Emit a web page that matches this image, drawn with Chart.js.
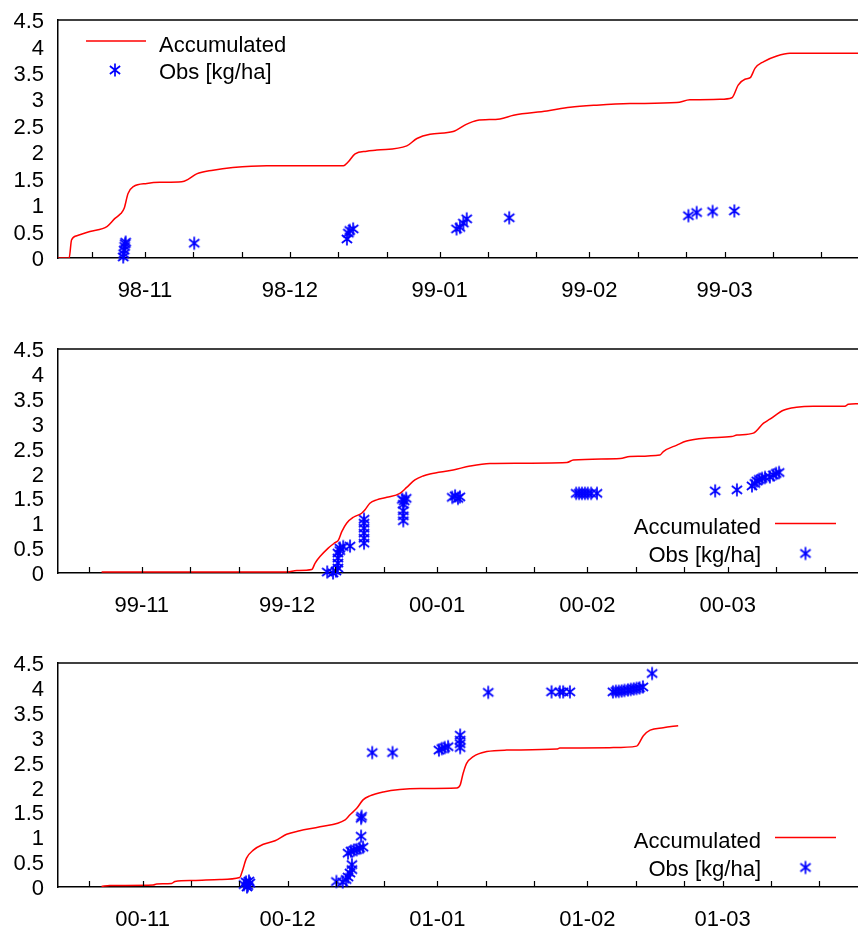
<!DOCTYPE html>
<html><head><meta charset="utf-8">
<script src="https://cdn.jsdelivr.net/npm/chart.js@4.4.0/dist/chart.umd.min.js"></script>
<style>
html,body{margin:0;padding:0;background:#fff;overflow:hidden;width:858px;height:930px;position:relative}
canvas{position:absolute;left:0}
</style></head>
<body>
<canvas id="c1" width="858" height="310" style="top:0px"></canvas>
<canvas id="c2" width="858" height="296" style="top:329px"></canvas>
<canvas id="c3" width="858" height="296" style="top:643px"></canvas>
<script>
// ---------- DATA (x = days since 1 Nov of the season) ----------
// Panel 1: season 1998-99
const days1 = [-18, -15.7, -15.2, -14.1, -11.4, -7.8, -6.2, -5.0, -4.3, -3.5, -2.4, 0.4, 3.1, 7.6, 9.0, 10.7, 14.1, 18.2, 25.2, 41.1, 42.1, 43.5, 45.9, 48.0, 54.2, 56.3, 59.0, 63.8, 66.6, 68.7, 73.5, 76.3, 83.2, 88.0, 93.5, 100.4, 110.1, 112.8, 119.0, 121.5, 122.8, 124.2, 125.3, 126.3, 128.0, 130.8, 133.5, 147.6];
const accum1 = [0, 0, 0.34, 0.42, 0.50, 0.60, 0.75, 0.84, 0.94, 1.22, 1.35, 1.41, 1.43, 1.44, 1.49, 1.59, 1.66, 1.71, 1.745, 1.745, 1.82, 1.97, 2.02, 2.04, 2.12, 2.26, 2.34, 2.39, 2.53, 2.60, 2.63, 2.70, 2.78, 2.85, 2.89, 2.92, 2.94, 2.99, 3.00, 3.03, 3.27, 3.38, 3.41, 3.59, 3.71, 3.82, 3.87, 3.87];
const obsDays1 = [-4.5, -4.4, -4.3, -4.2, -4.1, -4.0, 10.2, 41.8, 42.1, 42.4, 43.1, 64.5, 65.2, 65.9, 66.6, 75.4, 112.5, 114.2, 117.5, 122.0];
const obsVals1 = [0.02, 0.08, 0.15, 0.22, 0.27, 0.30, 0.28, 0.36, 0.47, 0.52, 0.55, 0.55, 0.58, 0.66, 0.74, 0.76, 0.80, 0.86, 0.88, 0.89];
const monthDays1 = [0, 30, 61, 92, 120];
const monthLabels1 = ['98-11', '98-12', '99-01', '99-02', '99-03'];
const minorDays1 = [-11, 10, 20, 40, 50, 71, 81, 102, 112, 130, 140];

// Panel 2: season 1999-2000
const days2 = [-8.3, 30, 32.0, 35.1, 35.8, 36.8, 38.5, 39.9, 40.6, 41.3, 42.3, 43.7, 45.4, 46.1, 47.1, 48.5, 50.6, 53.3, 54.7, 56.4, 58.1, 59.5, 64.3, 67.8, 71.9, 87.8, 89.1, 98.8, 100.8, 107.0, 107.7, 110.5, 112.5, 116.7, 121.8, 122.9, 126.3, 128.4, 129.7, 132.5, 135.2, 138.7, 145.2, 145.9, 147.9];
const accum2 = [0.02, 0.02, 0.05, 0.07, 0.20, 0.33, 0.50, 0.61, 0.66, 0.83, 1.00, 1.12, 1.20, 1.27, 1.40, 1.47, 1.52, 1.60, 1.72, 1.87, 1.95, 1.99, 2.07, 2.15, 2.20, 2.22, 2.27, 2.30, 2.34, 2.37, 2.44, 2.57, 2.65, 2.71, 2.74, 2.77, 2.81, 3.01, 3.09, 3.27, 3.33, 3.35, 3.35, 3.39, 3.40];
const obsDays2 = [38.3, 39.5, 40.1, 40.5, 40.5, 40.5, 40.5, 40.9, 40.9, 41.6, 43.0, 45.9, 45.9, 45.9, 45.9, 45.9, 45.9, 54.0, 54.0, 54.0, 54.0, 53.8, 54.2, 54.6, 64.1, 64.7, 65.3, 65.7, 89.7, 90.3, 90.9, 91.5, 92.1, 92.8, 94.0, 118.4, 122.9, 126.0, 126.6, 127.0, 127.5, 128.1, 128.7, 129.7, 130.4, 131.0, 131.6];
const obsVals2 = [0.02, 0.0, 0.04, 0.1, 0.2, 0.3, 0.4, 0.45, 0.5, 0.53, 0.54, 0.6, 0.7, 0.8, 0.9, 1.0, 1.08, 1.05, 1.15, 1.25, 1.38, 1.48, 1.45, 1.5, 1.52, 1.55, 1.5, 1.53, 1.6, 1.6, 1.6, 1.6, 1.6, 1.6, 1.6, 1.65, 1.67, 1.75, 1.8, 1.85, 1.88, 1.9, 1.92, 1.93, 1.97, 2.0, 2.02];
const monthDays2 = [0, 30, 61, 92, 121];
const monthLabels2 = ['99-11', '99-12', '00-01', '00-02', '00-03'];
const minorDays2 = [-11, 10, 20, 40, 50, 71, 81, 102, 112, 131, 141];

// Panel 3: season 2000-01
const days3 = [-8.5, -6.8, 2.2, 2.9, 6.0, 6.7, 10.5, 16.0, 20.1, 20.5, 21.5, 22.9, 25.0, 27.4, 29.8, 32.5, 36.7, 41.9, 42.9, 44.3, 45.6, 47.0, 49.8, 53.2, 57.4, 65.0, 65.7, 66.3, 67.0, 68.4, 71.2, 75.3, 85.7, 86.3, 97.4, 102.2, 103.6, 105.0, 107.7, 110.8];
const accum3 = [0.01, 0.03, 0.04, 0.06, 0.07, 0.11, 0.13, 0.15, 0.19, 0.28, 0.58, 0.74, 0.86, 0.93, 1.06, 1.13, 1.21, 1.35, 1.45, 1.58, 1.75, 1.83, 1.91, 1.96, 1.98, 1.99, 2.05, 2.28, 2.48, 2.62, 2.72, 2.75, 2.77, 2.79, 2.80, 2.83, 3.04, 3.15, 3.20, 3.24];
const obsDays3 = [21.0, 21.4, 21.6, 21.8, 22.0, 22.2, 40.1, 41.4, 42.1, 42.5, 42.9, 43.3, 43.3, 42.5, 43.1, 43.7, 44.3, 44.9, 45.6, 45.2, 45.2, 45.3, 47.5, 51.7, 61.3, 61.9, 62.5, 63.2, 65.7, 65.7, 65.7, 65.7, 71.5, 84.6, 86.3, 87.0, 88.4, 97.3, 97.9, 98.5, 99.1, 99.7, 100.4, 101.0, 101.6, 102.2, 102.8, 103.5, 105.4];
const obsVals3 = [0.05, 0.1, 0.0, 0.03, 0.12, 0.08, 0.11, 0.1, 0.15, 0.2, 0.28, 0.35, 0.45, 0.68, 0.72, 0.74, 0.75, 0.78, 0.8, 1.02, 1.38, 1.42, 2.70, 2.70, 2.75, 2.78, 2.80, 2.82, 2.80, 2.88, 2.95, 3.05, 3.91, 3.92, 3.92, 3.92, 3.92, 3.92, 3.93, 3.93, 3.94, 3.95, 3.96, 3.97, 3.98, 3.99, 4.0, 4.02, 4.29];
const monthDays3 = [0, 30, 61, 92, 120];
const monthLabels3 = ['00-11', '00-12', '01-01', '01-02', '01-03'];
const minorDays3 = [-11, 10, 20, 40, 50, 71, 81, 102, 112, 130, 140];

const yTicks = [0, 0.5, 1, 1.5, 2, 2.5, 3, 3.5, 4, 4.5];
const yTickLabels = ['0', '0.5', '1', '1.5', '2', '2.5', '3', '3.5', '4', '4.5'];
const seriesNames = ['Accumulated', 'Obs [kg/ha]'];

// ---------- STYLE ----------
const FONT = "'Liberation Sans', Arial, Helvetica, sans-serif";
Chart.defaults.font.family = FONT;
Chart.defaults.font.size = 22;
Chart.defaults.color = '#000';

function makeStar() {
  const c = document.createElement('canvas');
  c.width = 16; c.height = 16;
  const g = c.getContext('2d');
  g.strokeStyle = '#0000ff';
  g.lineWidth = 1.7;
  const cx = 8, cy = 8, r = 6.5;
  g.beginPath();
  for (const ang of [90, 38, -38]) {
    const t = ang * Math.PI / 180;
    g.moveTo(cx - r * Math.cos(t), cy + r * Math.sin(t));
    g.lineTo(cx + r * Math.cos(t), cy - r * Math.sin(t));
  }
  g.stroke();
  return c;
}
const STAR = makeStar();

const decor = {
  id: 'decor',
  afterDraw(chart, args, opts) {
    const { ctx, chartArea: a } = chart;
    const xs = chart.scales.x;
    ctx.save();
    ctx.strokeStyle = '#000';
    ctx.lineWidth = 1.5;
    ctx.beginPath();
    ctx.moveTo(a.left, a.top);
    ctx.lineTo(a.right, a.top);
    ctx.stroke();
    ctx.lineWidth = 1.2;
    ctx.beginPath();
    for (const v of opts.tickValues) {
      const px = Math.round(xs.getPixelForValue(v)) + 0.5;
      ctx.moveTo(px, a.bottom);
      ctx.lineTo(px, a.bottom - 6);
    }
    ctx.stroke();
    // legend
    ctx.font = '22px ' + FONT;
    ctx.fillStyle = '#000';
    ctx.textBaseline = 'alphabetic';
    ctx.strokeStyle = '#ff0000';
    ctx.lineWidth = 1.5;
    if (opts.legend === 'tl') {
      ctx.beginPath();
      ctx.moveTo(a.left + 28, a.top + 21);
      ctx.lineTo(a.left + 88, a.top + 21);
      ctx.stroke();
      ctx.textAlign = 'left';
      ctx.fillText(seriesNames[0], a.left + 101, a.top + 31.5);
      ctx.fillText(seriesNames[1], a.left + 101, a.top + 59);
      ctx.drawImage(STAR, a.left + 57 - 8, a.top + 50 - 8);
    } else {
      ctx.beginPath();
      ctx.moveTo(a.right - 83, a.bottom - 49.5);
      ctx.lineTo(a.right - 22, a.bottom - 49.5);
      ctx.stroke();
      ctx.textAlign = 'right';
      ctx.fillText(seriesNames[0], a.right - 97, a.bottom - 39);
      ctx.fillText(seriesNames[1], a.right - 97, a.bottom - 11);
      ctx.drawImage(STAR, a.right - 52.5 - 8, a.bottom - 19.5 - 8);
    }
    ctx.restore();
  }
};

function pts(xs, ys) { return xs.map((d, i) => ({ x: d, y: ys[i] })); }

function makeChart(id, p) {
  const allTicks = p.minor.concat(p.months).sort((a, b) => a - b);
  new Chart(document.getElementById(id), {
    type: 'scatter',
    data: {
      datasets: [
        { label: seriesNames[0], data: pts(p.days, p.accum), showLine: true, borderColor: '#ff0000',
          borderWidth: 1.5, pointRadius: 0, fill: false, cubicInterpolationMode: 'monotone' },
        { label: seriesNames[1], data: pts(p.obsDays, p.obsVals), showLine: false, pointStyle: STAR,
          pointRadius: 7, borderColor: '#0000ff', backgroundColor: '#0000ff', clip: false }
      ]
    },
    options: {
      responsive: false,
      animation: false,
      events: [],
      devicePixelRatio: 1,
      layout: { autoPadding: false, padding: { top: 20, left: 0, right: 0, bottom: 0 } },
      plugins: { legend: { display: false }, tooltip: { enabled: false }, decor: { tickValues: allTicks, legend: p.legend } },
      scales: {
        x: {
          type: 'linear', min: p.min, max: p.max,
          afterBuildTicks: s => { s.ticks = allTicks.map(v => ({ value: v })); },
          afterFit: s => { s.height = 52; },
          grid: { display: false, drawTicks: true, tickLength: 20 },
          border: { display: true, color: '#000', width: 1.5 },
          ticks: {
            autoSkip: false, maxRotation: 0, minRotation: 0, padding: 0, color: '#000',
            callback: v => { const i = p.months.indexOf(v); return i >= 0 ? p.labels[i] : ''; }
          }
        },
        y: {
          min: 0, max: 4.5,
          afterBuildTicks: s => { s.ticks = yTicks.map(v => ({ value: v })); },
          afterFit: s => { s.width = 58; },
          grid: { display: false, drawTicks: true, tickLength: 14 },
          border: { display: true, color: '#000', width: 1.5 },
          ticks: {
            autoSkip: false, padding: 0, color: '#000', labelOffset: 2,
            callback: v => { const i = yTicks.indexOf(v); return i >= 0 ? yTickLabels[i] : ''; }
          }
        }
      }
    },
    plugins: [decor]
  });
}

makeChart('c1', { days: days1, accum: accum1, obsDays: obsDays1, obsVals: obsVals1, months: monthDays1, labels: monthLabels1, minor: minorDays1, min: -18, max: 147.6, legend: 'tl' });
makeChart('c2', { days: days2, accum: accum2, obsDays: obsDays2, obsVals: obsVals2, months: monthDays2, labels: monthLabels2, minor: minorDays2, min: -17.3, max: 147.9, legend: 'br' });
makeChart('c3', { days: days3, accum: accum3, obsDays: obsDays3, obsVals: obsVals3, months: monthDays3, labels: monthLabels3, minor: minorDays3, min: -17.5, max: 148.0, legend: 'br' });
</script>
</body></html>
